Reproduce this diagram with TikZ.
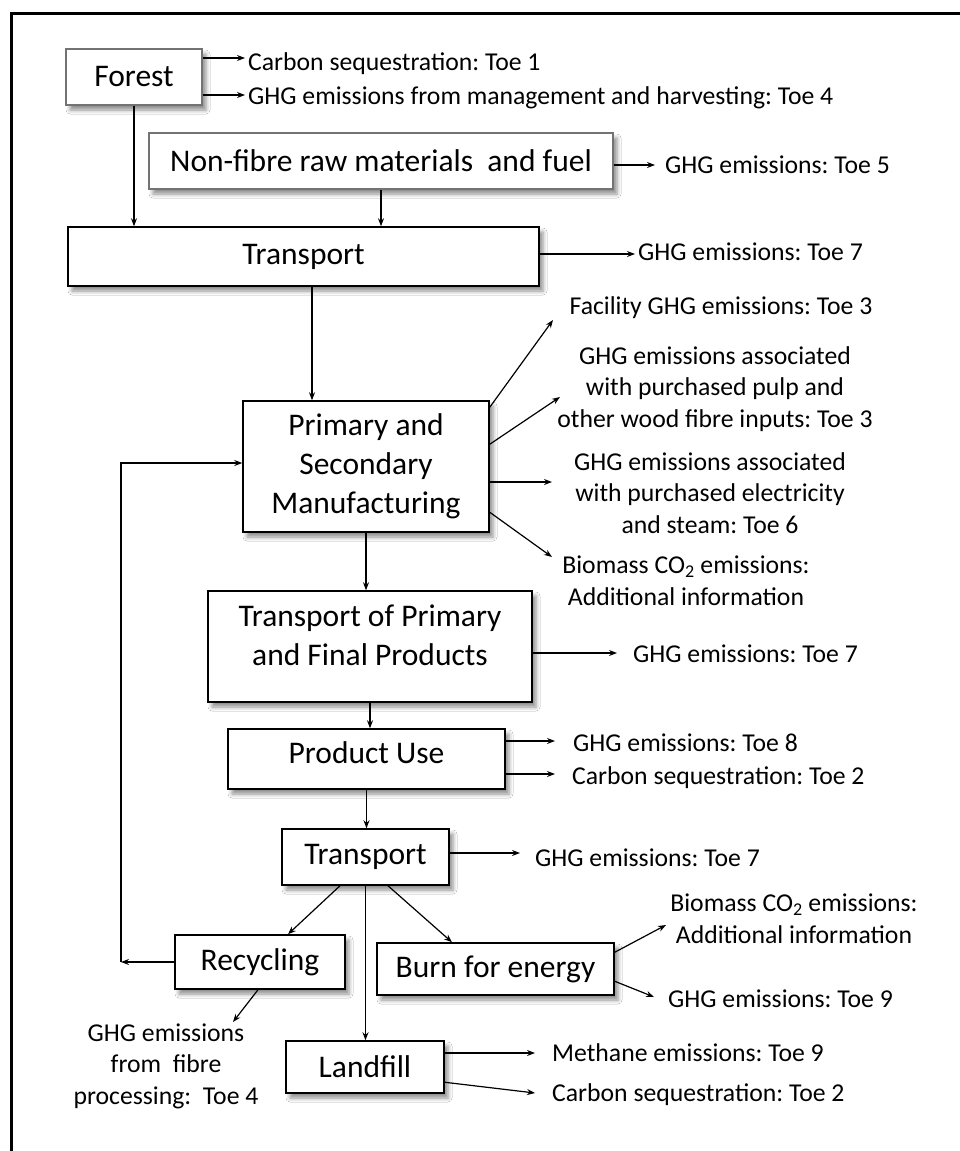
\documentclass[tikz,border=0pt]{standalone}
\usepackage{fontspec}
\setmainfont{Carlito}
\frenchspacing
\usetikzlibrary{arrows.meta,shadows.blur}
\begin{document}
\begin{tikzpicture}
[x=1pt, y=-1pt,
  boxdecorate/.style={draw, line width=1.5pt, fill=white, align=center,
    inner sep=0pt, font=\fontsize{31.5}{39}\selectfont,
    blur shadow={shadow xshift=4pt, shadow yshift=-5pt,
      shadow blur radius=4pt, shadow opacity=45}},
  greydecorate/.style={boxdecorate, draw=black!55},
  notedecorate/.style={inner sep=2pt, align=center,
    font=\fontsize{25.7}{31.5}\selectfont},
  linedecorate/.style={-{Stealth[length=8pt,width=6pt]}, line width=1.2pt}]
\fill[white] (0,0) rectangle (960,1151);
\useasboundingbox (0,0) rectangle (960,1151);
%% frame
\draw[line width=3pt] (11.5,1151) -- (11.5,13.5) -- (960,13.5);
%% boxes
\node[greydecorate, minimum width=136, minimum height=56] (forest) at (134,77) {Forest};
\node[greydecorate, minimum width=464, minimum height=56] (nonfibre) at (381,161)
  {Non-fibre raw materials\ \ and fuel};
\node[boxdecorate, minimum width=471, minimum height=59] (transporta) at (303.5,256.5) {Transport};
\node[boxdecorate, minimum width=246, minimum height=131] (manufacturing) at (366,466.5)
  {Primary and\\Secondary\\Manufacturing};
\node[boxdecorate, minimum width=324, minimum height=111, text depth=23pt] (prodtransport)
  at (370,646.5) {Transport of Primary\\and Final Products};
\node[boxdecorate, minimum width=277, minimum height=60, text depth=12pt] (productuse)
  at (366.5,759) {Product Use};
\node[boxdecorate, minimum width=167, minimum height=56] (transportb) at (365.5,857) {Transport};
\node[boxdecorate, minimum width=170, minimum height=54] (recycling) at (260,962) {Recycling};
\node[boxdecorate, minimum width=237, minimum height=52] (burn) at (495.5,969) {Burn for energy};
\node[boxdecorate, minimum width=158, minimum height=52] (landfill) at (365,1067) {Landfill};
%% notes on one line
\foreach \nodename/\x/\y/\txt in {seqforest/246/70/{Carbon sequestration: Toe 1},
  ghgforest/246/104/{GHG emissions from management and harvesting: Toe 4},
  ghgnonfibre/663/173/{GHG emissions: Toe 5}, ghgtransporta/636/260/{GHG emissions: Toe 7},
  ghgprodtransport/631/662/{GHG emissions: Toe 7}, ghguse/571/751/{GHG emissions: Toe 8},
  sequse/570/784/{Carbon sequestration: Toe 2}, ghgtransportb/533/866/{GHG emissions: Toe 7},
  ghgburn/666/1007/{GHG emissions: Toe 9}, methanelandfill/550/1061/{Methane emissions: Toe 9},
  seqlandfill/550/1101/{Carbon sequestration: Toe 2}}
{
  \node[notedecorate, anchor=base west] (\nodename) at (\x,\y) {\txt};
}
%% notes on several lines (base = last line)
\node[notedecorate, anchor=base] (ghgfacility) at (721,314) {Facility GHG emissions: Toe 3};
\node[notedecorate, anchor=base] (ghgpulp) at (715,427)
  {GHG emissions associated\\with purchased pulp and\\other wood fibre inputs: Toe 3};
\node[notedecorate, anchor=base] (ghgelectric) at (710,533)
  {GHG emissions associated\\with purchased electricity\\and steam: Toe 6};
\node[notedecorate, anchor=base] (biomassmanuf) at (686,605)
  {Biomass CO\textsubscript{2} emissions:\\Additional information};
\node[notedecorate, anchor=base] (biomassburn) at (794,943)
  {Biomass CO\textsubscript{2} emissions:\\Additional information};
\node[notedecorate, anchor=base] (ghgrecycling) at (166,1104)
  {GHG emissions\\from\ \ fibre\\processing:\ \ Toe 4};
%% free ends of the arrows
\foreach \coordname/\x/\y in {f1/245/58, f2/245/95, n1/655/165, a1/635/254,
  m1/553/320, m2/560/397, m3/552/482, m4/552/557, p1/617/653, u1/555/741,
  u2/555/774, r1/520/853, b1/666/925, b2/654/997, c1/233/1022, l1/535/1053,
  l2/535/1093, loop/121/463}
{
  \coordinate (\coordname) at (\x,\y);
}
%% main flow
\draw[linedecorate] (forest.south) -- (forest.south |- transporta.north);
\draw[linedecorate] (nonfibre.south) -- (nonfibre.south |- transporta.north);
\draw[linedecorate] ([xshift=8.5pt]transporta.south) -- ([xshift=8.5pt]transporta.south |- manufacturing.north);
\draw[linedecorate] (manufacturing.south) -- (manufacturing.south |- prodtransport.north);
\draw[linedecorate] (prodtransport.south) -- (prodtransport.south |- productuse.north);
\draw[linedecorate] (productuse.south) -- (productuse.south |- transportb.north);
\draw[linedecorate] ([xshift=-25.5pt]transportb.south) -- ([xshift=28pt]recycling.north);
\draw[linedecorate] (transportb.south) -- (transportb.south |- landfill.north);
\draw[linedecorate] ([xshift=22.5pt]transportb.south) -- ([xshift=-43.5pt]burn.north);
%% recycling loop
\draw[linedecorate] (recycling.west) -- (loop |- recycling.west);
\draw[linedecorate] (loop |- recycling.west) -- (loop) -- (loop -| manufacturing.west);
%% emissions
\draw[linedecorate] (forest.east |- f1) -- (f1);
\draw[linedecorate] (forest.east |- f2) -- (f2);
\draw[linedecorate] (nonfibre.east |- n1) -- (n1);
\draw[linedecorate] (transporta.east |- a1) -- (a1);
\draw[linedecorate] ([yshift=-7pt]manufacturing.north east) -- (m1);
\draw[linedecorate] ([yshift=-44pt]manufacturing.north east) -- (m2);
\draw[linedecorate] (manufacturing.east |- m3) -- (m3);
\draw[linedecorate] ([yshift=-112pt]manufacturing.north east) -- (m4);
\draw[linedecorate] (prodtransport.east |- p1) -- (p1);
\draw[linedecorate] (productuse.east |- u1) -- (u1);
\draw[linedecorate] (productuse.east |- u2) -- (u2);
\draw[linedecorate] (transportb.east |- r1) -- (r1);
\draw[linedecorate] ([yshift=-10pt]burn.north east) -- (b1);
\draw[linedecorate] ([yshift=-39pt]burn.north east) -- (b2);
\draw[linedecorate] ([xshift=-2pt]recycling.south) -- (c1);
\draw[linedecorate] (landfill.east |- l1) -- (l1);
\draw[linedecorate] ([yshift=-42pt]landfill.north east) -- (l2);
\end{tikzpicture}
\end{document}
